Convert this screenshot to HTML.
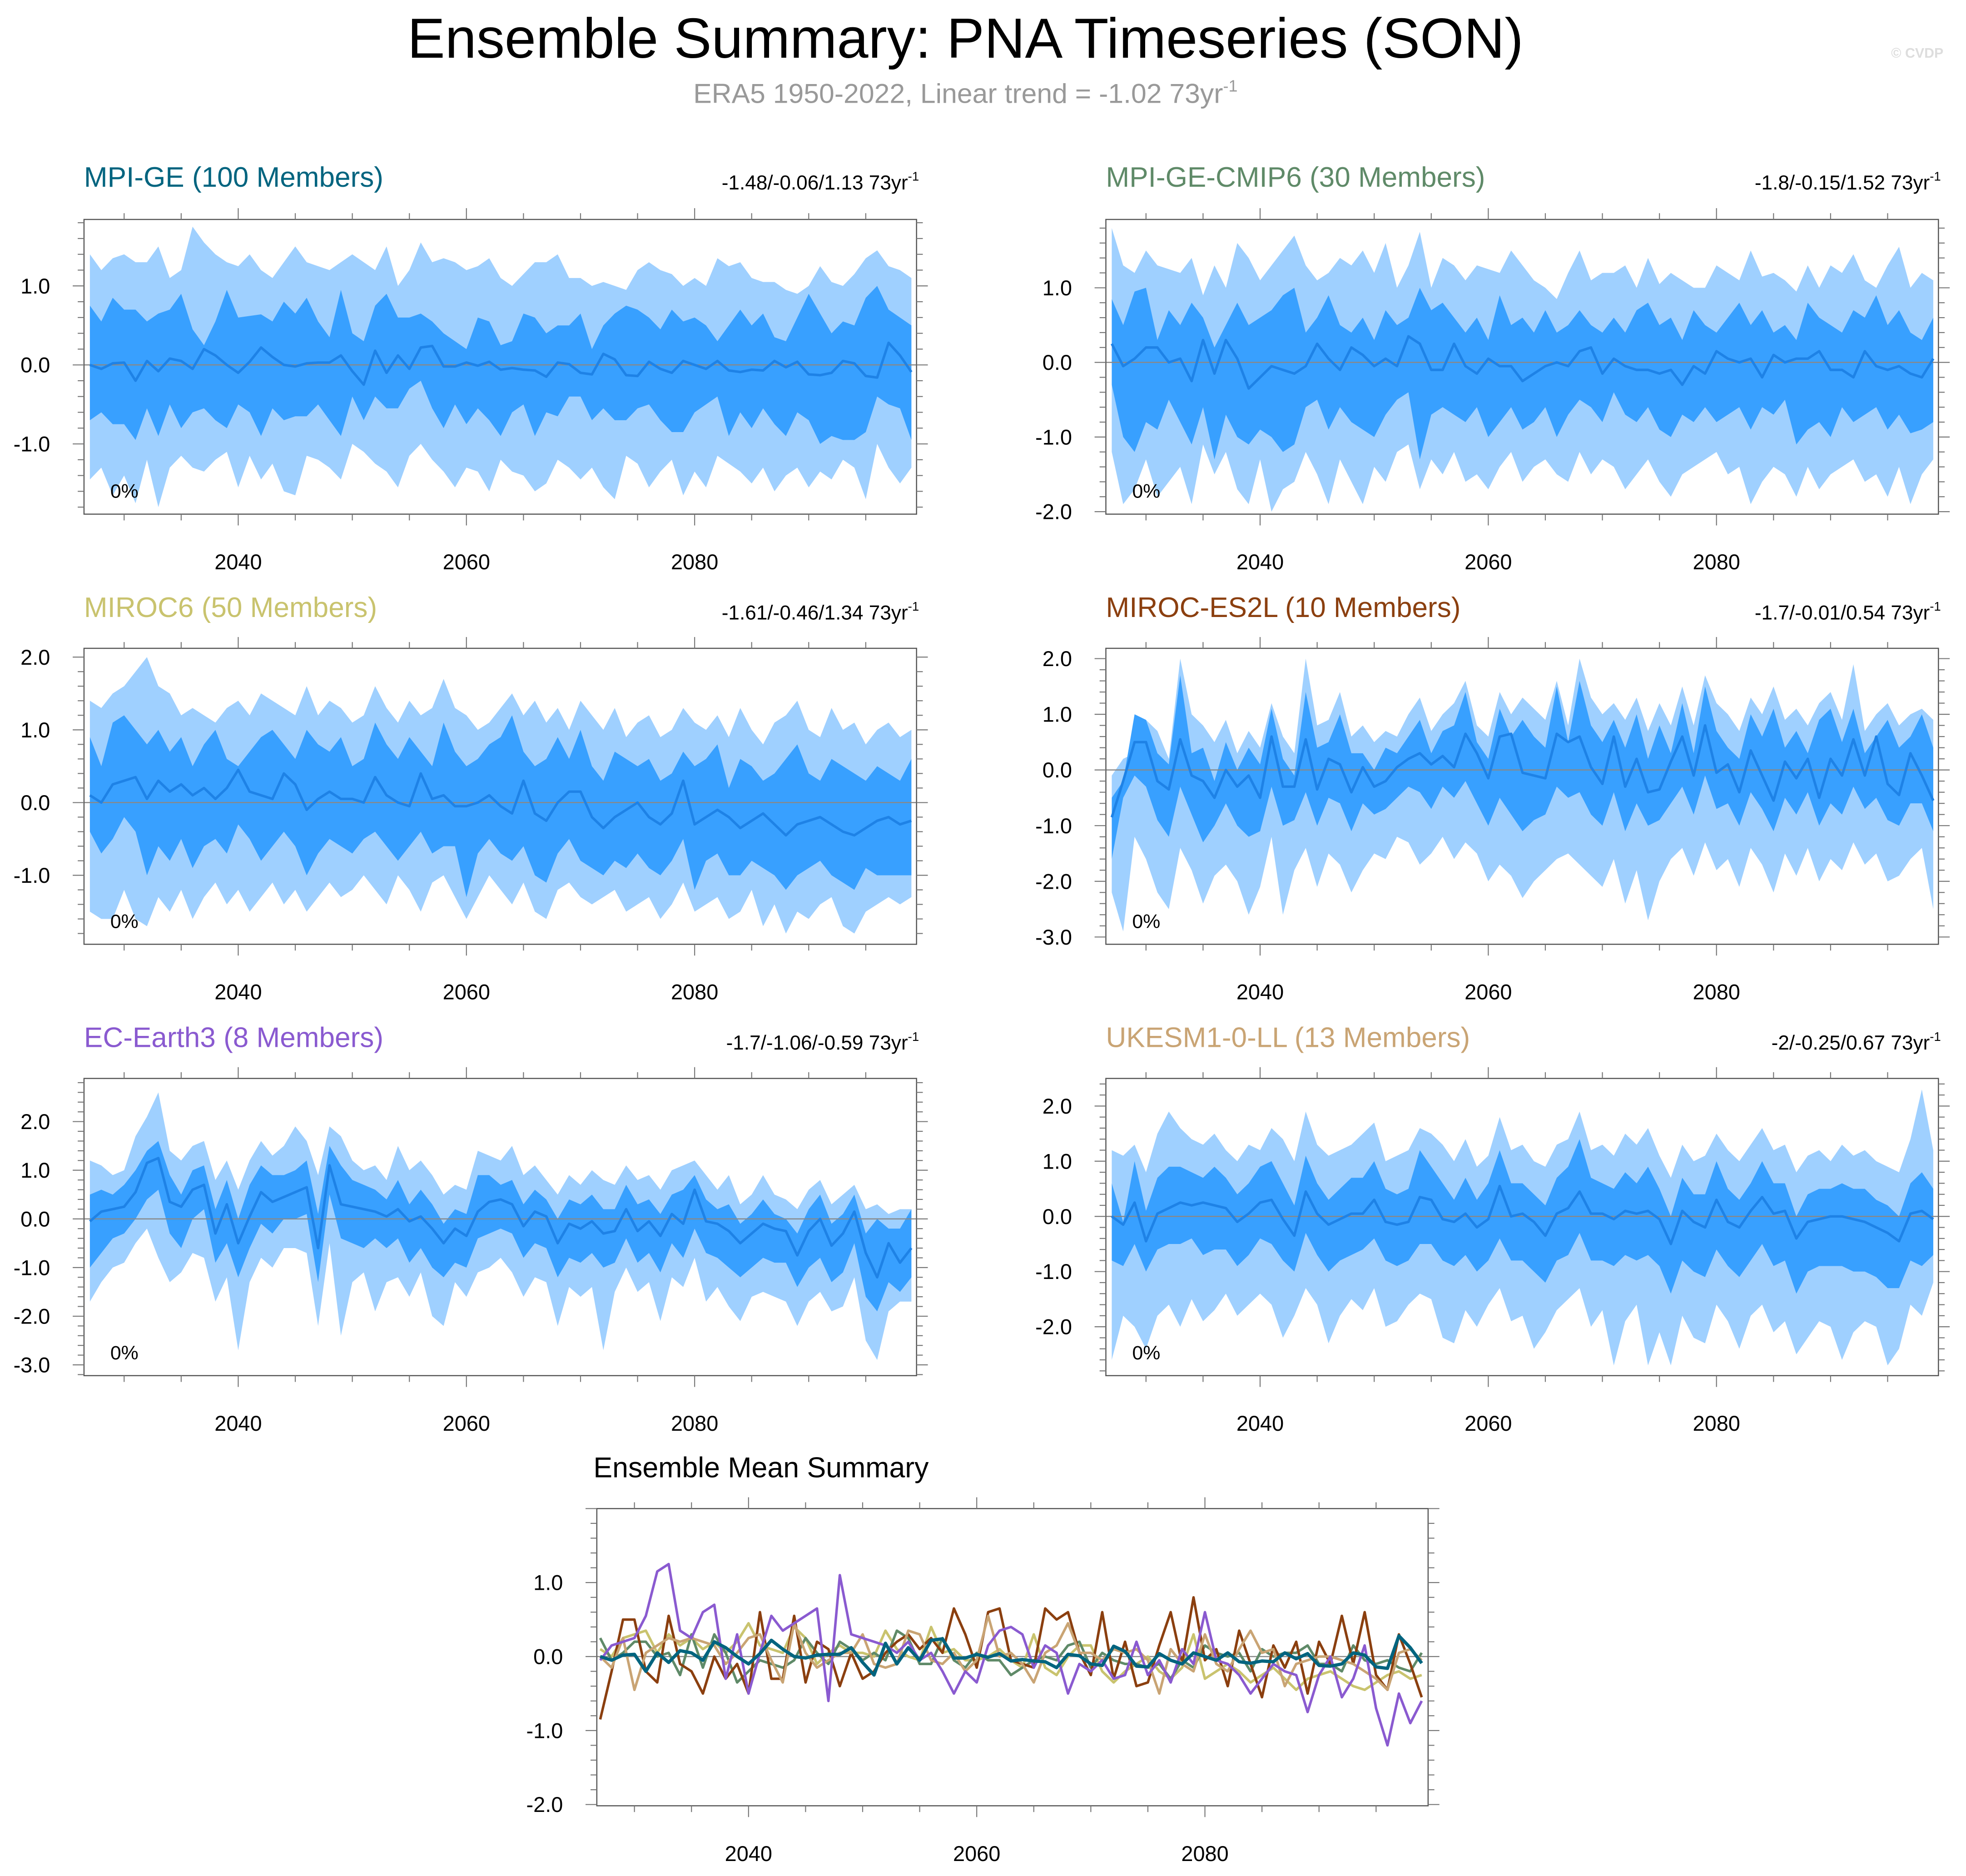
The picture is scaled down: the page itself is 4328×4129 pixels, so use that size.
<!DOCTYPE html>
<html><head><meta charset="utf-8"><style>
html,body{margin:0;padding:0;background:#fff}
svg{display:block;font-family:"Liberation Sans",Arial,sans-serif}
</style></head><body>
<svg id="chart" xmlns="http://www.w3.org/2000/svg" width="4328" height="4129" viewBox="0 0 1568 1496" preserveAspectRatio="none">
<rect x="0" y="0" width="1568" height="1496" fill="#fff"/>
<text x="770" y="46" font-size="45" text-anchor="middle" fill="#000">Ensemble Summary: PNA Timeseries (SON)</text>
<text x="770" y="82" font-size="22" text-anchor="middle" fill="#999">ERA5 1950-2022, Linear trend = -1.02 73yr<tspan dy="-9" font-size="13">-1</tspan></text>
<text x="1550" y="46" font-size="11" text-anchor="end" fill="#ddd" font-weight="bold">© CVDP</text>
<g id="plots"></g>
</svg>
<script>
// ---- data (years 2027..2099) ----
const startYear = 2027;
const p1Hi=[1.4,1.2,1.35,1.4,1.3,1.3,1.5,1.1,1.2,1.75,1.55,1.4,1.3,1.25,1.4,1.2,1.1,1.3,1.5,1.3,1.25,1.2,1.3,1.4,1.3,1.2,1.5,1.0,1.2,1.55,1.3,1.35,1.3,1.2,1.25,1.35,1.1,1.0,1.15,1.3,1.3,1.4,1.1,1.1,1.0,1.05,1.0,0.95,1.2,1.3,1.2,1.15,1.0,1.1,1.0,1.35,1.25,1.3,1.1,1.05,1.05,0.95,0.9,1.0,1.25,1.05,1.0,1.15,1.35,1.45,1.25,1.2,1.1];
const p1P90=[0.75,0.55,0.85,0.7,0.7,0.55,0.65,0.7,0.9,0.45,0.25,0.55,0.95,0.6,0.62,0.64,0.55,0.8,0.65,0.85,0.55,0.35,0.95,0.4,0.3,0.75,0.9,0.6,0.6,0.65,0.55,0.4,0.3,0.2,0.6,0.55,0.25,0.3,0.65,0.6,0.4,0.5,0.5,0.65,0.2,0.5,0.65,0.75,0.7,0.6,0.45,0.7,0.55,0.6,0.5,0.3,0.5,0.7,0.5,0.65,0.35,0.3,0.6,0.9,0.65,0.4,0.55,0.5,0.85,1.0,0.7,0.6,0.5];
const p1Mean=[0,-0.05,0.02,0.03,-0.2,0.05,-0.08,0.08,0.05,-0.05,0.2,0.12,0,-0.1,0.04,0.22,0.1,0,-0.02,0.02,0.03,0.03,0.12,-0.08,-0.25,0.18,-0.1,0.12,-0.05,0.22,0.24,-0.02,-0.02,0.03,-0.01,0.04,-0.06,-0.04,-0.06,-0.07,-0.15,0.03,0.01,-0.1,-0.12,0.14,0.07,-0.13,-0.14,0.04,-0.05,-0.1,0.05,0,-0.05,0.05,-0.07,-0.09,-0.06,-0.07,0.05,-0.03,0.04,-0.12,-0.13,-0.1,0.05,0.02,-0.14,-0.16,0.28,0.12,-0.09];
const p1P10=[-0.7,-0.6,-0.75,-0.75,-0.95,-0.55,-0.9,-0.5,-0.8,-0.6,-0.55,-0.7,-0.8,-0.5,-0.6,-0.9,-0.55,-0.7,-0.65,-0.65,-0.5,-0.7,-0.9,-0.4,-0.7,-0.4,-0.55,-0.55,-0.3,-0.2,-0.55,-0.8,-0.5,-0.75,-0.55,-0.7,-0.9,-0.6,-0.5,-0.9,-0.6,-0.65,-0.4,-0.4,-0.7,-0.55,-0.7,-0.7,-0.55,-0.5,-0.7,-0.85,-0.85,-0.6,-0.5,-0.4,-0.9,-0.6,-0.8,-0.55,-0.75,-0.9,-0.6,-0.7,-1.0,-0.9,-0.95,-0.95,-0.85,-0.4,-0.5,-0.55,-0.95];
const p1Lo=[-1.45,-1.3,-1.65,-1.4,-1.75,-1.2,-1.8,-1.3,-1.15,-1.3,-1.35,-1.2,-1.1,-1.55,-1.15,-1.45,-1.25,-1.6,-1.65,-1.15,-1.2,-1.3,-1.45,-1.0,-1.1,-1.25,-1.35,-1.55,-1.15,-1.0,-1.2,-1.35,-1.55,-1.3,-1.35,-1.6,-1.2,-1.35,-1.4,-1.6,-1.5,-1.2,-1.3,-1.45,-1.3,-1.55,-1.7,-1.15,-1.25,-1.55,-1.35,-1.2,-1.65,-1.35,-1.55,-1.15,-1.25,-1.35,-1.5,-1.3,-1.6,-1.4,-1.3,-1.55,-1.35,-1.45,-1.2,-1.3,-1.7,-1.0,-1.3,-1.5,-1.3];

const p2Hi=[1.8,1.3,1.2,1.5,1.3,1.25,1.2,1.4,0.9,1.3,1.0,1.6,1.4,1.1,1.3,1.5,1.7,1.3,1.1,1.2,1.4,1.3,1.5,1.2,1.6,1.0,1.3,1.75,1.0,1.4,1.3,1.1,1.3,1.25,1.2,1.5,1.3,1.1,1.0,0.85,1.2,1.5,1.1,1.2,1.2,1.3,1.0,1.4,1.05,1.2,1.1,1.0,1.0,1.3,1.2,1.1,1.5,1.15,1.2,1.1,0.95,1.3,1.0,1.3,1.2,1.45,1.1,1.0,1.3,1.55,1.0,1.2,1.1];
const p2P90=[0.85,0.5,0.95,1.0,0.3,0.7,0.5,0.8,0.6,0.2,0.5,0.8,0.5,0.6,0.7,0.9,1.0,0.4,0.6,0.9,0.5,0.4,0.6,0.3,0.7,0.5,0.6,1.0,0.7,0.8,0.6,0.4,0.6,0.3,0.9,0.5,0.6,0.4,0.7,0.4,0.5,0.7,0.5,0.4,0.6,0.4,0.7,0.8,0.5,0.6,0.3,0.7,0.5,0.4,0.6,0.8,0.5,0.7,0.4,0.5,0.3,0.8,0.6,0.5,0.4,0.7,0.6,0.9,0.5,0.7,0.4,0.3,0.6];
const p2Mean=[0.25,-0.05,0.05,0.2,0.2,0,0.05,-0.25,0.3,-0.15,0.3,0.05,-0.35,-0.2,-0.05,-0.1,-0.15,-0.05,0.25,0.05,-0.1,0.2,0.1,-0.05,0.05,-0.05,0.35,0.25,-0.1,-0.1,0.25,-0.05,-0.15,0.05,-0.05,-0.05,-0.25,-0.15,-0.05,0,-0.05,0.15,0.2,-0.15,0.05,-0.05,-0.1,-0.1,-0.15,-0.1,-0.3,-0.05,-0.15,0.15,0.05,0,0.05,-0.2,0.1,0,0.05,0.05,0.15,-0.1,-0.1,-0.2,0.15,-0.05,-0.1,-0.05,-0.15,-0.2,0.05];
const p2P10=[-0.3,-1.0,-1.2,-0.8,-0.9,-0.5,-0.8,-1.1,-0.6,-1.3,-0.7,-1.0,-1.1,-0.9,-1.0,-1.2,-1.1,-0.6,-0.5,-0.9,-0.6,-0.8,-0.9,-1.0,-0.7,-0.5,-0.4,-1.3,-0.7,-0.6,-0.7,-0.8,-0.6,-1.0,-0.8,-0.6,-0.9,-0.8,-0.6,-1.0,-0.7,-0.5,-0.6,-0.8,-0.4,-0.7,-0.8,-0.6,-0.9,-1.0,-0.7,-0.8,-0.6,-0.8,-0.7,-0.6,-0.9,-0.6,-0.7,-0.5,-1.1,-0.9,-0.8,-1.0,-0.6,-0.8,-0.7,-0.6,-0.9,-0.7,-0.95,-0.9,-0.8];
const p2Lo=[-1.2,-1.9,-1.7,-1.3,-1.8,-1.6,-1.4,-1.9,-1.1,-1.5,-1.2,-1.7,-1.9,-1.3,-2.0,-1.7,-1.6,-1.2,-1.5,-1.9,-1.3,-1.6,-1.9,-1.4,-1.6,-1.2,-1.1,-1.7,-1.3,-1.5,-1.2,-1.6,-1.5,-1.7,-1.4,-1.2,-1.6,-1.4,-1.3,-1.5,-1.6,-1.2,-1.5,-1.3,-1.4,-1.7,-1.5,-1.3,-1.6,-1.8,-1.5,-1.4,-1.3,-1.2,-1.5,-1.4,-1.9,-1.6,-1.4,-1.5,-1.8,-1.4,-1.7,-1.5,-1.4,-1.3,-1.6,-1.5,-1.8,-1.4,-1.9,-1.5,-1.3];

const p3Hi=[1.4,1.3,1.5,1.6,1.8,2.0,1.6,1.5,1.2,1.3,1.2,1.1,1.3,1.4,1.2,1.5,1.4,1.3,1.2,1.6,1.2,1.4,1.3,1.1,1.2,1.6,1.3,1.1,1.4,1.2,1.3,1.7,1.3,1.2,1.0,1.1,1.3,1.5,1.2,1.4,1.1,1.3,1.0,1.4,1.2,1.0,1.3,0.9,1.1,1.2,0.9,1.0,1.3,1.1,1.0,1.2,0.9,1.3,1.0,0.8,1.1,1.2,1.4,1.0,0.9,1.3,1.0,1.1,0.8,1.0,1.1,0.9,1.0];
const p3P90=[0.9,0.5,1.1,1.2,1.0,0.8,1.0,0.7,0.9,0.5,0.8,1.0,0.6,0.5,0.7,0.9,1.0,0.8,0.6,1.0,0.8,0.7,0.9,0.5,0.6,1.1,0.8,0.6,0.9,0.7,0.5,1.1,0.7,0.5,0.6,0.8,0.9,1.2,0.7,0.5,0.6,0.9,0.6,1.0,0.5,0.3,0.7,0.6,0.5,0.6,0.3,0.4,0.7,0.5,0.6,0.8,0.2,0.6,0.5,0.3,0.4,0.6,0.8,0.4,0.3,0.6,0.5,0.4,0.3,0.5,0.4,0.3,0.6];
const p3Mean=[0.1,0,0.25,0.3,0.35,0.05,0.3,0.15,0.25,0.1,0.2,0.05,0.2,0.45,0.15,0.1,0.05,0.4,0.25,-0.1,0.05,0.15,0.05,0.05,0,0.35,0.1,0,-0.05,0.4,0.05,0.1,-0.05,-0.05,0,0.1,-0.05,-0.15,0.3,-0.15,-0.25,0,0.15,0.15,-0.2,-0.35,-0.2,-0.1,0,-0.2,-0.3,-0.15,0.3,-0.3,-0.2,-0.1,-0.2,-0.35,-0.25,-0.15,-0.3,-0.45,-0.3,-0.25,-0.2,-0.3,-0.4,-0.45,-0.35,-0.25,-0.2,-0.3,-0.25];
const p3P10=[-0.4,-0.7,-0.5,-0.2,-0.4,-1.0,-0.6,-0.8,-0.5,-0.9,-0.6,-0.5,-0.7,-0.3,-0.5,-0.8,-0.6,-0.4,-0.6,-1.0,-0.7,-0.5,-0.6,-0.7,-0.5,-0.4,-0.6,-0.8,-0.6,-0.4,-0.7,-0.6,-0.6,-1.3,-0.7,-0.5,-0.7,-0.8,-0.6,-1.0,-1.1,-0.7,-0.5,-0.8,-0.9,-1.0,-0.8,-0.9,-0.7,-0.9,-1.0,-0.8,-0.5,-1.2,-0.8,-0.7,-1.0,-1.0,-0.8,-0.9,-1.0,-1.2,-1.0,-0.9,-0.8,-1.0,-1.1,-1.2,-0.9,-1.0,-1.0,-1.0,-1.0];
const p3Lo=[-1.5,-1.6,-1.6,-1.2,-1.6,-1.7,-1.3,-1.5,-1.2,-1.6,-1.3,-1.1,-1.4,-1.2,-1.5,-1.3,-1.1,-1.4,-1.2,-1.5,-1.3,-1.1,-1.3,-1.2,-1.0,-1.2,-1.4,-1.0,-1.2,-1.5,-1.1,-1.0,-1.3,-1.6,-1.3,-1.0,-1.2,-1.4,-1.1,-1.5,-1.6,-1.2,-1.1,-1.3,-1.4,-1.3,-1.2,-1.5,-1.4,-1.3,-1.6,-1.4,-1.1,-1.5,-1.4,-1.3,-1.6,-1.5,-1.2,-1.7,-1.4,-1.8,-1.5,-1.6,-1.4,-1.3,-1.7,-1.8,-1.5,-1.4,-1.3,-1.4,-1.3];

const p4Hi=[-0.1,0.2,0.3,0.9,0.7,0.2,2.0,1.0,0.8,0.5,0.9,0.3,0.7,0.4,1.2,0.6,0.3,2.0,0.8,0.9,1.4,0.6,0.8,0.5,0.7,0.6,1.0,1.3,0.7,1.0,1.2,1.6,0.8,0.6,1.4,1.0,1.3,1.1,0.9,1.6,0.8,2.0,1.3,1.0,1.2,0.9,1.3,0.7,1.2,0.8,1.5,0.8,1.7,1.2,1.0,0.7,1.3,1.0,1.5,0.9,1.1,0.8,1.2,1.4,0.9,1.9,0.7,1.0,1.2,0.8,1.0,1.1,0.9];
const p4P90=[-0.5,-0.2,1.0,0.9,0.3,0.1,1.7,0.3,0.4,-0.2,0.5,0.0,0.4,0.1,1.1,0.2,-0.1,1.4,0.4,0.5,1.0,0.3,0.3,0.0,0.4,0.3,0.6,0.9,0.3,0.7,0.8,1.4,0.5,0.2,1.1,0.6,0.9,0.6,0.4,1.5,0.5,1.6,0.8,0.5,0.9,0.4,1.0,0.2,0.8,0.3,1.2,0.3,1.5,0.7,0.4,0.2,1.0,0.6,1.1,0.4,0.7,0.3,0.9,1.1,0.5,1.1,0.3,0.6,0.9,0.4,0.6,1.0,0.4];
const p4Mean=[-0.85,-0.2,0.5,0.5,-0.2,-0.35,0.55,-0.1,-0.2,-0.5,0,-0.3,-0.1,-0.5,0.6,-0.3,-0.3,0.55,-0.35,0.2,0.1,-0.4,0.05,-0.3,-0.2,0.05,0.2,0.3,0.1,0.25,0.05,0.65,0.3,-0.15,0.6,0.65,-0.05,-0.1,-0.15,0.65,0.5,0.6,0.05,-0.25,0.6,-0.3,0.2,-0.4,-0.35,0.15,0.6,-0.1,0.8,-0.05,0.1,-0.4,0.35,-0.1,-0.55,0.15,-0.15,0.2,-0.5,0.2,-0.1,0.55,-0.1,0.6,-0.25,-0.45,0.3,-0.1,-0.55];
const p4P10=[-1.6,-0.5,-0.1,-0.3,-0.9,-1.2,-0.3,-0.8,-1.3,-1.0,-0.6,-1.0,-1.2,-1.1,-0.3,-1.0,-0.9,-0.4,-1.0,-0.5,-0.6,-1.1,-0.6,-0.8,-0.7,-0.5,-0.3,-0.4,-0.7,-0.3,-0.5,-0.2,-0.6,-1.0,-0.5,-0.8,-1.1,-0.9,-0.8,-0.3,-0.5,-0.4,-0.8,-1.0,-0.4,-1.1,-0.6,-1.0,-0.9,-0.6,-0.3,-0.8,-0.1,-0.7,-0.6,-1.0,-0.4,-0.7,-1.1,-0.5,-0.8,-0.4,-1.0,-0.6,-0.8,-0.3,-0.7,-0.5,-0.9,-1.0,-0.6,-0.6,-1.1];
const p4Lo=[-2.2,-2.9,-1.2,-1.6,-2.2,-2.5,-1.4,-1.8,-2.4,-1.9,-1.7,-2.0,-2.6,-2.1,-1.2,-2.6,-1.8,-1.4,-2.1,-1.5,-1.7,-2.2,-1.8,-1.5,-1.6,-1.2,-1.3,-1.7,-1.5,-1.2,-1.6,-1.3,-1.5,-2.0,-1.7,-1.9,-2.3,-2.0,-1.8,-1.6,-1.5,-1.7,-1.9,-2.1,-1.6,-2.4,-1.8,-2.7,-2.0,-1.6,-1.4,-1.9,-1.3,-1.8,-1.6,-2.1,-1.4,-1.7,-2.2,-1.5,-1.9,-1.4,-2.0,-1.6,-1.8,-1.3,-1.7,-1.5,-2.0,-1.9,-1.6,-1.4,-2.5];

const p5Hi=[1.2,1.1,0.9,1.0,1.7,2.1,2.6,1.4,1.2,1.5,1.6,0.8,1.2,0.6,1.2,1.6,1.3,1.5,1.9,1.6,0.9,1.9,1.7,1.2,1.0,1.1,0.8,1.5,1.0,1.2,0.9,0.5,0.7,0.6,1.4,1.3,1.2,1.5,0.9,1.1,0.8,0.5,0.9,0.7,1.0,0.8,0.7,1.1,0.8,0.9,0.6,1.0,1.1,1.2,0.9,0.6,0.9,0.3,0.5,0.9,0.5,0.4,0.2,0.6,0.8,0.3,0.5,0.7,0.2,0.3,0.1,0.2,0.2];
const p5P90=[0.5,0.6,0.5,0.7,1.0,1.4,1.6,0.9,0.5,1.0,1.1,0.2,0.8,0.0,0.7,1.1,0.9,0.9,1.0,1.2,0.1,1.5,1.1,0.8,0.7,0.6,0.4,0.8,0.3,0.6,0.3,-0.1,0.2,0.1,0.9,0.9,0.7,0.8,0.3,0.6,0.4,0.0,0.4,0.3,0.5,0.2,0.2,0.7,0.3,0.4,0.1,0.5,0.6,0.9,0.4,0.2,0.3,-0.1,0.1,0.4,0.1,0.0,-0.3,0.2,0.5,-0.1,0.1,0.5,-0.3,0.0,-0.2,-0.2,0.2];
const p5Mean=[-0.05,0.15,0.2,0.25,0.55,1.15,1.25,0.35,0.25,0.6,0.7,-0.3,0.3,-0.5,0.05,0.55,0.35,0.45,0.55,0.65,-0.6,1.1,0.3,0.25,0.2,0.15,0.05,0.2,-0.05,0.05,-0.2,-0.5,-0.2,-0.35,0.15,0.35,0.4,0.3,-0.15,0.15,0.05,-0.5,-0.1,-0.2,-0.05,-0.3,-0.25,0.2,-0.25,-0.05,-0.35,0.1,-0.1,0.6,-0.05,-0.1,-0.25,-0.5,-0.3,-0.1,-0.2,-0.25,-0.75,-0.25,0,-0.55,-0.3,0.15,-0.7,-1.2,-0.5,-0.9,-0.6];
const p5P10=[-1.0,-0.7,-0.4,-0.3,0.0,0.4,0.6,-0.3,-0.6,0.0,0.2,-0.9,-0.5,-1.2,-0.6,-0.1,-0.3,0.0,0.0,0.1,-1.3,0.5,-0.4,-0.5,-0.6,-0.4,-0.6,-0.4,-0.9,-0.6,-1.0,-1.2,-0.9,-1.0,-0.4,-0.3,-0.2,-0.3,-0.8,-0.5,-0.6,-1.2,-0.8,-0.9,-0.7,-1.0,-0.9,-0.4,-0.9,-0.7,-1.1,-0.5,-0.8,-0.2,-0.7,-0.8,-1.0,-1.2,-1.0,-0.8,-0.9,-0.9,-1.4,-1.0,-0.8,-1.3,-1.1,-0.5,-1.6,-1.9,-1.3,-1.5,-1.2];
const p5Lo=[-1.7,-1.3,-1.0,-0.9,-0.5,-0.2,-0.8,-1.3,-1.1,-0.7,-0.8,-1.7,-1.2,-2.7,-1.3,-0.8,-1.0,-0.6,-0.6,-0.7,-2.2,-0.5,-2.4,-1.3,-1.1,-1.9,-1.3,-1.2,-1.6,-1.1,-2.0,-2.2,-1.3,-1.6,-1.1,-1.0,-0.8,-1.1,-1.6,-1.2,-1.3,-2.2,-1.4,-1.6,-1.4,-2.7,-1.5,-1.0,-1.5,-1.3,-2.1,-1.2,-1.4,-0.8,-1.7,-1.4,-1.8,-2.1,-1.6,-1.5,-1.6,-1.7,-2.2,-1.7,-1.5,-1.9,-1.8,-1.2,-2.5,-2.9,-1.9,-1.7,-1.7];

const p6Hi=[1.2,1.1,1.3,0.8,1.5,1.9,1.6,1.4,1.3,1.5,1.2,1.0,1.3,1.2,1.6,1.4,1.0,1.9,1.3,1.1,1.2,1.3,1.5,1.7,1.0,1.1,1.2,1.6,1.5,1.3,1.0,1.4,0.9,1.1,1.8,1.2,1.3,1.0,0.9,1.3,1.4,1.9,1.2,1.3,1.1,1.5,1.3,1.6,1.1,0.7,1.3,1.0,1.1,1.5,1.2,1.0,1.3,1.6,1.2,1.3,0.8,1.1,1.2,1.0,1.3,1.1,1.2,1.0,0.9,0.8,1.4,2.3,1.2];
const p6P90=[0.6,-0.1,1.0,0.1,0.7,0.9,0.9,0.8,0.7,0.9,0.7,0.4,0.6,0.9,1.0,0.6,0.2,1.1,0.6,0.3,0.5,0.7,0.7,1.0,0.5,0.4,0.5,1.2,0.9,0.6,0.3,0.7,0.3,0.6,1.2,0.6,0.6,0.4,0.2,0.7,0.9,1.4,0.7,0.6,0.5,0.8,0.6,0.9,0.5,0.0,0.7,0.4,0.4,1.0,0.5,0.3,0.6,1.0,0.6,0.6,0.0,0.4,0.5,0.5,0.6,0.5,0.5,0.3,0.2,0.0,0.6,0.8,0.5];
const p6Mean=[0,-0.15,0.25,-0.45,0.05,0.15,0.25,0.2,0.25,0.2,0.15,-0.1,0.05,0.25,0.3,-0.05,-0.35,0.45,0.05,-0.15,-0.05,0.05,0.05,0.3,-0.1,-0.15,-0.1,0.35,0.3,-0.05,-0.1,0.05,-0.2,-0.05,0.55,0,0.05,-0.1,-0.35,0.05,0.15,0.45,0.05,0.05,-0.05,0.1,0.05,0.1,-0.05,-0.5,0.1,-0.1,-0.2,0.3,-0.1,-0.2,0.1,0.35,0.05,0.1,-0.4,-0.1,-0.05,0,0,-0.05,-0.1,-0.2,-0.3,-0.45,0.05,0.1,-0.05];
const p6P10=[-0.8,-0.9,-0.5,-1.0,-0.6,-0.5,-0.5,-0.4,-0.7,-0.6,-0.6,-0.9,-0.7,-0.4,-0.5,-0.8,-1.0,-0.3,-0.7,-1.0,-0.8,-0.7,-0.6,-0.4,-0.8,-0.9,-0.8,-0.5,-0.5,-0.8,-0.9,-0.7,-1.0,-0.8,-0.4,-0.8,-0.8,-1.0,-1.2,-0.8,-0.7,-0.3,-0.8,-0.8,-0.9,-0.7,-0.8,-0.7,-0.9,-1.4,-0.8,-1.0,-1.1,-0.6,-0.9,-1.1,-0.8,-0.5,-0.9,-0.8,-1.4,-1.0,-0.9,-0.9,-0.9,-1.0,-1.0,-1.1,-1.3,-1.3,-0.8,-0.9,-0.7];
const p6Lo=[-2.6,-1.8,-2.0,-2.4,-1.8,-1.6,-2.0,-1.5,-1.9,-1.7,-1.4,-1.8,-1.6,-1.4,-1.6,-2.2,-1.8,-1.3,-1.6,-2.3,-1.8,-1.5,-1.7,-1.3,-2.0,-1.9,-1.6,-1.4,-1.5,-2.2,-2.3,-1.7,-2.0,-1.6,-1.3,-1.9,-1.8,-2.4,-2.1,-1.7,-1.5,-1.3,-2.0,-1.7,-2.7,-1.9,-1.6,-2.7,-2.1,-2.7,-1.8,-2.2,-2.3,-1.6,-1.9,-2.4,-1.8,-1.6,-2.1,-1.9,-2.5,-2.2,-1.9,-2.0,-2.6,-2.1,-1.9,-2.0,-2.7,-2.4,-1.6,-1.8,-1.2];

const modelNames=["MPI-GE (100 Members)","MPI-GE-CMIP6 (30 Members)","MIROC6 (50 Members)","MIROC-ES2L (10 Members)","EC-Earth3 (8 Members)","UKESM1-0-LL (13 Members)"];
const trendLabels=["-1.48/-0.06/1.13 73yr","-1.8/-0.15/1.52 73yr","-1.61/-0.46/1.34 73yr","-1.7/-0.01/0.54 73yr","-1.7/-1.06/-0.59 73yr","-2/-0.25/0.67 73yr"];
const modelColors=["#00647f","#5f8a68","#c9c36e","#8b3f0f","#8a5ad0","#c9a474"];
const xTickLabels=[2040,2060,2080];

// ---- layout ----
const NS="http://www.w3.org/2000/svg";
const root=document.getElementById('plots');
function el(tag,attrs,parent){const e=document.createElementNS(NS,tag);for(const k in attrs)e.setAttribute(k,attrs[k]);(parent||root).appendChild(e);return e;}

const panels=[
 {x0:67,x1:731,y0:175,y1:410,zeroY:291,ppu:63,ticks:[-1,0,1],data:[p1Lo,p1P10,p1Mean,p1P90,p1Hi],ty:141},
 {x0:882,x1:1546,y0:175,y1:410,zeroY:289,ppu:59.5,ticks:[-2,-1,0,1],data:[p2Lo,p2P10,p2Mean,p2P90,p2Hi],ty:141},
 {x0:67,x1:731,y0:517,y1:753,zeroY:640,ppu:58,ticks:[-1,0,1,2],data:[p3Lo,p3P10,p3Mean,p3P90,p3Hi],ty:484},
 {x0:882,x1:1546,y0:517,y1:753,zeroY:614,ppu:44.4,ticks:[-3,-2,-1,0,1,2],data:[p4Lo,p4P10,p4Mean,p4P90,p4Hi],ty:484},
 {x0:67,x1:731,y0:860,y1:1097,zeroY:972,ppu:38.8,ticks:[-3,-2,-1,0,1,2],data:[p5Lo,p5P10,p5Mean,p5P90,p5Hi],ty:827},
 {x0:882,x1:1546,y0:860,y1:1097,zeroY:970,ppu:44,ticks:[-2,-1,0,1,2],data:[p6Lo,p6P10,p6Mean,p6P90,p6Hi],ty:827}
];

function axes(g,p,xs,ys){
  const fr=el('rect',{x:p.x0,y:p.y0,width:p.x1-p.x0,height:p.y1-p.y0,fill:'none',stroke:'#555','stroke-width':0.9},g);
  
  
  for(let yr=2030;yr<=2100;yr+=5){
    const x=xs(yr); if(x<p.x0||x>p.x1) continue;
    const len=(yr%20===0)?9:5;
    el('line',{x1:x,y1:p.y1,x2:x,y2:p.y1+len,stroke:'#777','stroke-width':0.8},g);
    el('line',{x1:x,y1:p.y0,x2:x,y2:p.y0-len,stroke:'#777','stroke-width':0.8},g);
  }
  const vTop=(p.zeroY-p.y0)/p.ppu, vBot=(p.zeroY-p.y1)/p.ppu;
  for(let k=Math.ceil(vBot*5);k<=Math.floor(vTop*5);k++){
    const v=k/5,y=ys(v),len=(k%5===0)?9:5;
    el('line',{x1:p.x0,y1:y,x2:p.x0-len,y2:y,stroke:'#777','stroke-width':0.8},g);
    el('line',{x1:p.x1,y1:y,x2:p.x1+len,y2:y,stroke:'#777','stroke-width':0.8},g);
  }
  p.ticks.forEach(v=>{
    const t=el('text',{x:p.x0-27,y:ys(v)+6,'font-size':17,'text-anchor':'end',fill:'#000'},g);
    t.textContent=v.toFixed(1);
    
    
  });
  xTickLabels.forEach(yr=>{
    const t=el('text',{x:xs(yr),y:p.y1+44,'font-size':17,'text-anchor':'middle',fill:'#000'},g);
    t.textContent=String(yr);
    
    
  });
}

function band(lo,hi,xs,ys,n,fill,g,name){
  let d='';
  for(let i=0;i<n;i++) d+=(i?'L':'M')+xs(startYear+i).toFixed(2)+','+ys(hi[i]).toFixed(2);
  for(let i=n-1;i>=0;i--) d+='L'+xs(startYear+i).toFixed(2)+','+ys(lo[i]).toFixed(2);
  const pth=el('path',{d:d+'Z',fill:fill,stroke:'none'},g);
  
  
}
function line(arr,xs,ys,n,col,w,g,name){
  let d='';
  for(let i=0;i<n;i++) d+=(i?'L':'M')+xs(startYear+i).toFixed(2)+','+ys(arr[i]).toFixed(2);
  const pth=el('path',{d:d,fill:'none',stroke:col,'stroke-width':w,'stroke-linejoin':'round'},g);
  
  
}

panels.forEach((p,pi)=>{
  const g=el('g',{});
  
  
  const xs=yr=>p.x0+123+(yr-2040)*9.1;
  const ys=v=>p.zeroY-v*p.ppu;
  const [lo,p10,mean,p90,hi]=p.data;
  const n=Math.min(lo.length,p10.length,mean.length,p90.length,hi.length);
  band(lo,hi,xs,ys,n,'#9fd0ff',g,'min-max-band');
  band(p10,p90,xs,ys,n,'#38a0ff',g,'p10-p90-band');
  el('line',{x1:p.x0,y1:ys(0),x2:p.x1,y2:ys(0),stroke:'#888','stroke-width':0.9},g);
  line(mean,xs,ys,n,'#1e82e6',2,g,'ensemble-mean-line');
  axes(g,p,xs,ys);
  const t=el('text',{x:p.x0,y:p.ty+8,'font-size':22.5,fill:modelColors[pi]},g);
  t.textContent=modelNames[pi];
  
  
  const tr=el('text',{x:p.x1+2,y:p.ty+10,'font-size':16,'text-anchor':'end',fill:'#000'},g);
  tr.innerHTML=trendLabels[pi]+'<tspan dy="-7" font-size="10">-1</tspan>';
  
  
  const pc=el('text',{x:p.x0+21,y:p.y1-13,'font-size':15.5,fill:'#000'},g);
  pc.textContent='0%';
  
  
});

// bottom summary
(function(){
  const p={x0:476,x1:1139,y0:1203,y1:1440,zeroY:1321,ppu:59,ticks:[-2,-1,0,1]};
  const g=el('g',{});
  
  
  const xs=yr=>597+(yr-2040)*9.1;
  const ys=v=>p.zeroY-v*p.ppu;
  el('line',{x1:p.x0,y1:ys(0),x2:p.x1,y2:ys(0),stroke:'#888','stroke-width':0.9},g);
  const means=[p1Mean,p2Mean,p3Mean,p4Mean,p5Mean,p6Mean];
  const widths=[2.6,2,2,2,2,2];
  const order=[2,1,3,5,4,0];
  order.forEach(i=>line(means[i],xs,ys,means[i].length,modelColors[i],widths[i],g,'summary-line-'+i));
  axes(g,p,xs,ys);
  const t=el('text',{x:607,y:1178,'font-size':22.7,'text-anchor':'middle',fill:'#000'},g);
  t.textContent='Ensemble Mean Summary';
  
  
})();
</script>
</body></html>
